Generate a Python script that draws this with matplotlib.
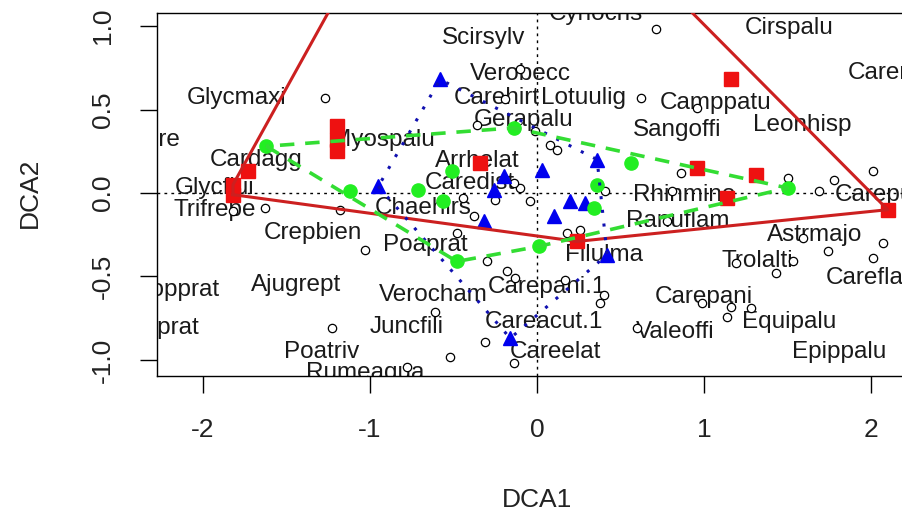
import matplotlib
matplotlib.use("Agg")
import matplotlib.pyplot as plt
import numpy as np

plt.rcParams['font.family'] = ['Liberation Sans', 'DejaVu Sans']
plt.rcParams['axes.unicode_minus'] = False

# sitios por grupo (DCA1, DCA2)
sitios_rojo_x = [-1.73, -1.82, -1.82, -1.20, -1.20, -1.20, -0.34, 1.16, 0.96, 1.31, 1.14, 2.10, 0.24, -0.47]
sitios_rojo_y = [0.13, 0.05, -0.01, 0.40, 0.32, 0.25, 0.18, 0.68, 0.15, 0.11, -0.03, -0.10, -0.29, 2.49]

sitios_azul_x = [-0.58, -0.95, -0.26, -0.20, -0.32, 0.03, 0.36, 0.20, 0.29, 0.10, 0.42, -0.16]
sitios_azul_y = [0.68, 0.04, 0.02, 0.10, -0.17, 0.14, 0.20, -0.05, -0.06, -0.14, -0.37, -0.87]

sitios_verde_x = [-1.62, -1.12, -0.71, -0.51, -0.56, -0.14, 0.56, 0.36, 0.34, 0.01, -0.48, 1.50]
sitios_verde_y = [0.28, 0.01, 0.02, 0.13, -0.05, 0.39, 0.18, 0.05, -0.09, -0.32, -0.41, 0.03]

# especies con etiqueta
especies = ["Scirsylv", "Cynocris", "Cirspalu", "Carenigr", "Glycmaxi", "Verobecc",
            "Carehirt", "Lotuulig", "Camppatu", "Leonhisp", "Gerapalu", "Sangoffi",
            "Ranuacre", "Myospalu", "Cardagg", "Arrhelat", "Caredist", "Glycflui",
            "Rhinmino", "Carepuli", "Chaehirs", "Trifrepe", "Ranuflam", "Crepbien",
            "Poaprat", "Filulma", "Astrmajo", "Trolalti", "Careflac", "Alopprat",
            "Lathprat", "Ajugrept", "Verocham", "Carepani.1", "Carepani", "Careacut.1",
            "Juncfili", "Equipalu", "Valeoffi", "Poatriv", "Careelat", "Epippalu",
            "Rumeaqua"]
esp_x = [-0.32, 0.35, 1.51, 2.14, -1.80, -0.10, -0.24, 0.28, 1.07, 1.59, -0.08, 0.84,
         -2.45, -0.92, -1.68, -0.36, -0.40, -1.93, 0.88, 2.05, -0.68, -1.93, 0.84, -1.34,
         -0.67, 0.40, 1.66, 1.32, 2.00, -2.17, -2.29, -1.44, -0.62, 0.06, 1.00, 0.04,
         -0.78, 1.51, 0.83, -1.29, 0.11, 1.81, -1.03]
esp_y = [0.93, 1.07, 0.99, 0.72, 0.57, 0.71, 0.57, 0.57, 0.54, 0.41, 0.44, 0.38,
         0.32, 0.32, 0.20, 0.19, 0.06, 0.03, -0.01, -0.01, -0.09, -0.10, -0.17, -0.24,
         -0.31, -0.37, -0.25, -0.41, -0.51, -0.58, -0.81, -0.55, -0.61, -0.56, -0.62, -0.77,
         -0.80, -0.77, -0.83, -0.95, -0.95, -0.95, -1.08]

# especies sin etiqueta (puntos)
puntos_x = [0.71, -1.27, -0.10, -0.19, -0.36, -0.01, 0.08, 0.12, 0.62, 0.96, 0.86, 1.50,
            1.78, 2.01, 1.69, -0.10, -0.14, -0.25, -0.04, 0.41, -1.82, -1.63, -1.18, -1.03,
            -0.44, -0.38, -0.48, -0.30, -0.18, -0.13, 0.18, 0.26, 0.17, 0.40, 0.38, -0.61,
            -0.31, -0.52, -0.14, -0.78, -1.23, 0.60, 0.81, 0.78, 1.59, 1.74, 2.07, 2.01,
            1.19, 1.53, 1.43, 0.99, 1.16, 1.14, 1.28]
puntos_y = [0.98, 0.57, 0.74, 0.56, 0.41, 0.37, 0.29, 0.26, 0.57, 0.51, 0.12, 0.09,
            0.08, 0.13, 0.01, 0.03, 0.06, -0.04, -0.05, 0.01, -0.11, -0.09, -0.10, -0.34,
            -0.03, -0.14, -0.24, -0.41, -0.47, -0.51, -0.24, -0.22, -0.52, -0.61, -0.66, -0.71,
            -0.89, -0.98, -1.02, -1.04, -0.81, -0.81, 0.01, -0.17, -0.27, -0.35, -0.30, -0.39,
            -0.42, -0.41, -0.48, -0.66, -0.68, -0.74, -0.69]

ticks_x = [-2, -1, 0, 1, 2]
ticks_y = [1.0, 0.5, 0.0, -0.5, -1.0]
etiq_y = ["1.0", "0.5", "0.0", "-0.5", "-1.0"]


def envolvente(xs, ys):
    # casco convexo (monotone chain), cerrado
    p = sorted(set(zip(xs, ys)))
    def cruz(o, a, b):
        return (a[0]-o[0])*(b[1]-o[1]) - (a[1]-o[1])*(b[0]-o[0])
    inf, sup = [], []
    for q in p:
        while len(inf) >= 2 and cruz(inf[-2], inf[-1], q) <= 0:
            inf.pop()
        inf.append(q)
    for q in reversed(p):
        while len(sup) >= 2 and cruz(sup[-2], sup[-1], q) <= 0:
            sup.pop()
        sup.append(q)
    h = inf[:-1] + sup[:-1]
    h.append(h[0])
    return np.array(h)


fig = plt.figure(figsize=(9.02, 5.26), dpi=100)
W, H = 902, 526
ax = fig.add_axes([157/W, (H-376)/H, (940-157)/W, (376-13)/H])
ax.set_xlim(-2.275, 2.413)
ax.set_ylim(-1.096, 1.078)

ax.axhline(0, color="black", lw=1, ls=(0, (2, 3)), zorder=1)
ax.axvline(0, color="black", lw=1, ls=(0, (2, 3)), zorder=1)

for nom, x, y in zip(especies, esp_x, esp_y):
    ax.text(x, y, nom, fontsize=17.5, color="#1a1a1a", ha="center", va="center",
            clip_on=True, zorder=2)

ax.plot(puntos_x, puntos_y, "o", ms=6, mfc="white", mec="black", mew=0.9, zorder=3)

ax.plot(sitios_rojo_x, sitios_rojo_y, "s", ms=9.5, color="#ee1111", mec="#ee1111", zorder=4)
ax.plot(sitios_azul_x, sitios_azul_y, "^", ms=10, color="#0000ee", zorder=4)
ax.plot(sitios_verde_x, sitios_verde_y, "o", ms=9.5, color="#22ee22", zorder=4)

h = envolvente(sitios_rojo_x, sitios_rojo_y)
ax.plot(h[:, 0], h[:, 1], color="#cc2020", lw=2.2, zorder=5)
h = envolvente(sitios_azul_x, sitios_azul_y)
ax.plot(h[:, 0], h[:, 1], color="#1010b0", lw=2.2, ls=(0, (1, 3.5)), zorder=5)
h = envolvente(sitios_verde_x, sitios_verde_y)
ax.plot(h[:, 0], h[:, 1], color="#33dd33", lw=2.6, ls=(0, (4, 3)), zorder=5)

ax.set_xticks(ticks_x)
ax.set_xticklabels([str(t) for t in ticks_x], fontsize=19, color="#222222")
ax.set_yticks(ticks_y)
ax.set_yticklabels(etiq_y, fontsize=19, rotation=90, va="center", color="#222222")
ax.tick_params(direction="out", length=12, width=1, pad=18)
for s in ax.spines.values():
    s.set_linewidth(1)

fig.text(537/W, 1-500/H, "DCA1", fontsize=19, ha="center", va="center", color="#222222")
fig.text(30/W, 1-193/H, "DCA2", fontsize=19, ha="center", va="center", rotation=90, color="#222222")

fig.savefig("out.png", dpi=100, facecolor="white")
